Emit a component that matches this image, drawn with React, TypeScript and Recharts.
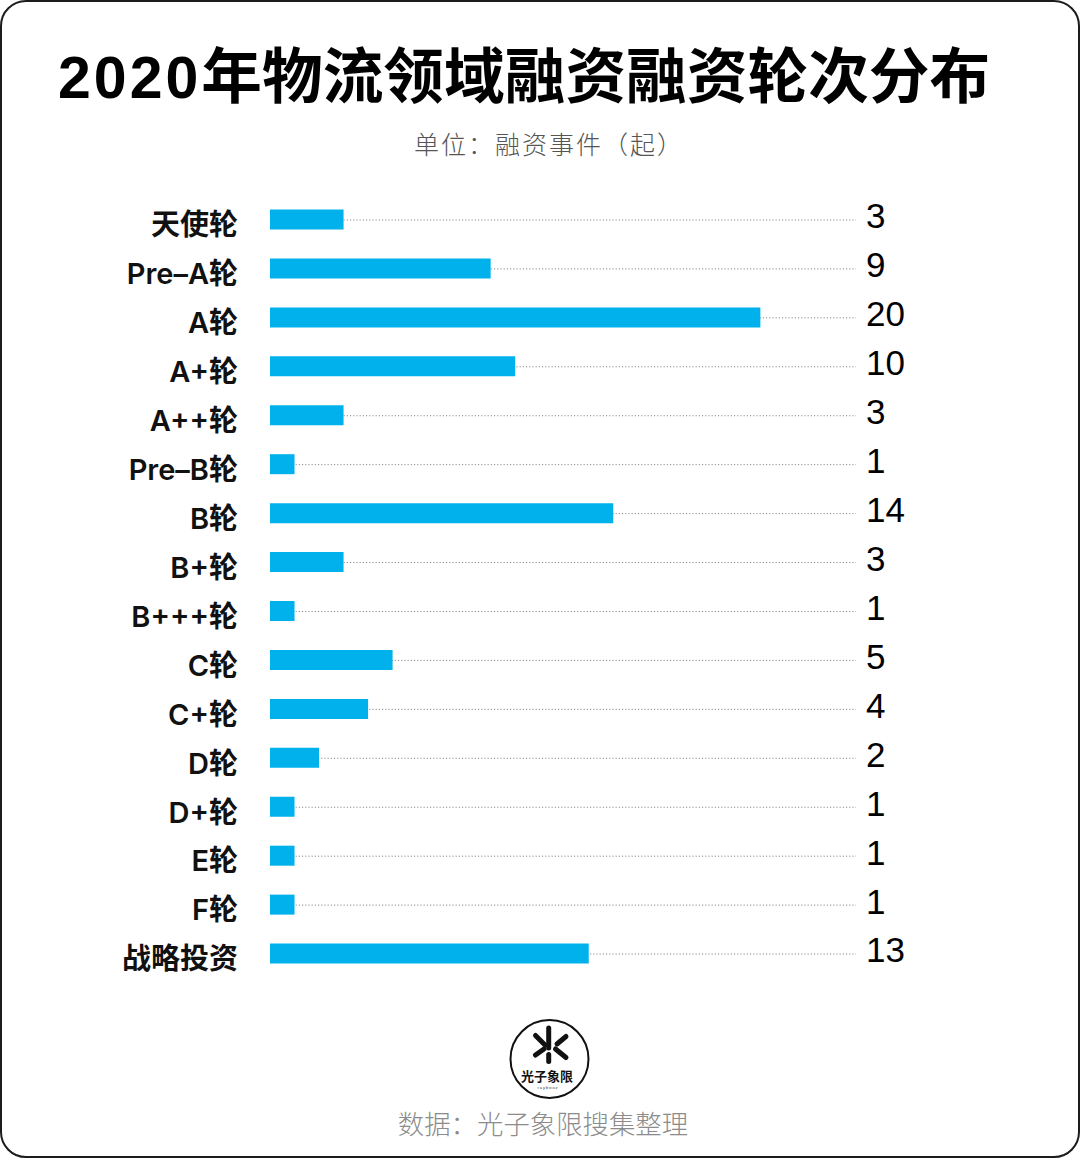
import { BarChart, Bar, XAxis, YAxis, CartesianGrid } from "recharts";

const rounds = [
  "天使轮",
  "Pre–A轮",
  "A轮",
  "A+轮",
  "A++轮",
  "Pre–B轮",
  "B轮",
  "B+轮",
  "B+++轮",
  "C轮",
  "C+轮",
  "D轮",
  "D+轮",
  "E轮",
  "F轮",
  "战略投资",
];
const counts = [3, 9, 20, 10, 3, 1, 14, 3, 1, 5, 4, 2, 1, 1, 1, 13];

const data = rounds.map((name, i) => ({ name, value: counts[i] }));
const countByName: Record<string, number> = Object.fromEntries(
  rounds.map((r, i) => [r, counts[i]])
);

const latinCjk = '"Liberation Sans", "Noto Sans CJK SC", sans-serif';

// grid lines through the middle of each category band
const bandCenters = ({ offset }: any) => {
  if (!offset) return [];
  const step = offset.height / rounds.length;
  return rounds.map((_, i) => offset.top + (i + 0.5) * step);
};

function Logo() {
  return (
    <svg width={90} height={90} viewBox="0 0 90 90" style={{ display: "block" }}>
      <circle cx={44.5} cy={45} r={39} fill="#fff" stroke="#111" strokeWidth={2} />
      <g stroke="#111" strokeWidth={5} strokeLinecap="round">
        <line x1={43.7} y1={14} x2={43.7} y2={34} />
        <line x1={30.5} y1={21.5} x2={40} y2={31} />
        <line x1={30.5} y1={41} x2={39} y2={35} />
        <line x1={61} y1={22.5} x2={52} y2={30} />
        <line x1={50.5} y1={35} x2={61} y2={43.5} />
        <line x1={43.7} y1={40.5} x2={43.7} y2={47.5} />
      </g>
      <text
        x={42}
        y={67}
        textAnchor="middle"
        fontSize={13}
        fontWeight={700}
        fontFamily='"Noto Sans CJK SC", sans-serif'
        fill="#111"
      >
        光子象限
      </text>
      <text x={43} y={75} textAnchor="middle" fontSize={4} fill="#333" letterSpacing={1}>
        raybooz
      </text>
    </svg>
  );
}

export default function App() {
  return (
    <div
      style={{
        position: "absolute",
        left: 0,
        top: 0,
        width: 1080,
        height: 1158,
        boxSizing: "border-box",
        border: "2px solid #1c1c1c",
        borderRadius: 26,
        background: "#fff",
        fontFamily: latinCjk,
        overflow: "hidden",
      }}
    >
      <div
        style={{
          position: "absolute",
          left: 56,
          top: 30,
          whiteSpace: "nowrap",
          fontWeight: 700,
          color: "#000",
          lineHeight: "90px",
        }}
      >
        <span style={{ fontSize: 59, letterSpacing: 3 }}>2020</span>
        <span style={{ fontSize: 60.7 }}>年物流领域融资融资轮次分布</span>
      </div>

      <div
        style={{
          position: "absolute",
          left: 0,
          width: 1094,
          top: 123,
          textAlign: "center",
          fontSize: 25,
          letterSpacing: 2,
          fontWeight: 300,
          color: "#555",
          fontFamily: '"Noto Sans CJK SC", sans-serif',
        }}
      >
        单位：融资事件（起）
      </div>

      <div style={{ position: "absolute", left: -2, top: -2 }}>
        <BarChart
          width={1080}
          height={1000}
          data={data}
          layout="vertical"
          margin={{ top: 195.5, right: 14, bottom: 21.5, left: 0 }}
          barSize={20}
        >
          <CartesianGrid
            horizontal
            vertical={false}
            stroke="#8a8a8a"
            strokeDasharray="1.2 2"
            horizontalCoordinatesGenerator={bandCenters}
          />
          <XAxis type="number" domain={[0, 23.9]} hide />
          <YAxis
            type="category"
            dataKey="name"
            width={270}
            axisLine={false}
            tickLine={false}
            tickSize={0}
            tickMargin={32}
            interval={0}
            tick={{
              fontSize: 29,
              fontWeight: 600,
              fill: "#111",
              fontFamily: 'Inter, "Noto Sans CJK SC", sans-serif',
              dy: 5,
            }}
          />
          <YAxis
            yAxisId="r"
            orientation="right"
            type="category"
            dataKey="name"
            width={210}
            axisLine={false}
            tickLine={false}
            tickSize={0}
            tickMargin={10}
            interval={0}
            tickFormatter={(n: string) => String(countByName[n])}
            tick={{
              fontSize: 35,
              fill: "#000",
              fontFamily: '"Liberation Sans", sans-serif',
              textAnchor: "start",
              dy: -4,
            }}
          />
          <Bar dataKey="value" fill="#00b1ec" isAnimationActive={false} />
        </BarChart>
      </div>

      <div style={{ position: "absolute", left: 503, top: 1012 }}>
        <Logo />
      </div>

      <div
        style={{
          position: "absolute",
          left: 0,
          width: 1082,
          top: 1101,
          textAlign: "center",
          fontSize: 26.4,
          fontWeight: 300,
          color: "#8c8c8c",
          fontFamily: '"Noto Sans CJK SC", sans-serif',
        }}
      >
        数据：光子象限搜集整理
      </div>
    </div>
  );
}
